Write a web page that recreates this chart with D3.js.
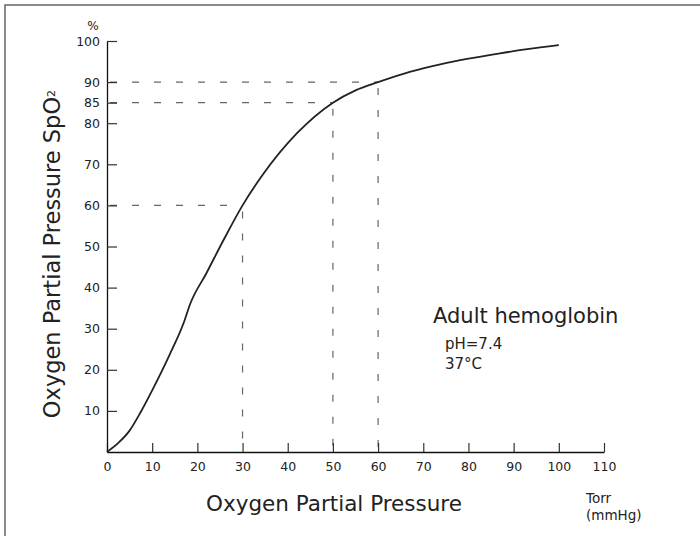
<!DOCTYPE html>
<html>
<head>
<meta charset="utf-8">
<script src="https://cdn.jsdelivr.net/npm/d3@7/dist/d3.min.js"></script>
<style>
  html, body { margin: 0; padding: 0; background: #fff; }
  svg { display: block; }
  text { font-family: "DejaVu Sans", sans-serif; fill: #222; }
</style>
</head>
<body>
<svg id="chart" width="700" height="536"></svg>
<script>
// ---- data ----
const pressure = [0, 2.5, 5, 7.5, 10, 14, 17, 18.4, 22, 26, 30, 34.5, 42, 50, 55, 60, 67, 74, 80, 87, 93, 100];
const saturation = [0, 2.2, 5.2, 9.8, 15, 24, 31.5, 36, 43.5, 52, 60, 67.5, 77.5, 85, 88, 90, 92.5, 94.4, 95.7, 97, 98, 99];
const guidePressures = [30, 50, 60];
const guideSaturations = [60, 85, 90];
const xTicks = [0, 10, 20, 30, 40, 50, 60, 70, 80, 90, 100, 110];
const yTicks = [10, 20, 30, 40, 50, 60, 70, 80, 85, 90, 100];

const svg = d3.select("#chart");

// frame
svg.append("rect")
  .attr("x", 5).attr("y", 5).attr("width", 720).attr("height", 560)
  .attr("fill", "none").attr("stroke", "#666").attr("stroke-width", 1.5);

const x = d3.scaleLinear().domain([0, 110]).range([107, 604]);
const y = d3.scaleLinear().domain([0, 100]).range([452, 41]);

// guides
const guides = svg.append("g")
  .attr("stroke", "#666").attr("stroke-width", 1.2)
  .attr("stroke-dasharray", "7,15").attr("fill", "none");
guidePressures.forEach((p, i) => {
  const s = guideSaturations[i];
  guides.append("line")
    .attr("x1", x(0) + 3).attr("x2", x(p)).attr("y1", y(s)).attr("y2", y(s));
  guides.append("line")
    .attr("x1", x(p)).attr("x2", x(p)).attr("y1", y(s) + 6).attr("y2", y(0));
});

// axes
const xAxis = d3.axisBottom(x).tickValues(xTicks).tickSizeInner(-9).tickSizeOuter(0).tickPadding(10.5);
const yAxis = d3.axisLeft(y).tickValues(yTicks).tickSizeInner(-10).tickSizeOuter(0).tickPadding(7);

const gx = svg.append("g").attr("transform", `translate(0,${y(0)})`).call(xAxis);
const gy = svg.append("g").attr("transform", `translate(${x(0)},0)`).call(yAxis);

[gx, gy].forEach(g => {
  g.select(".domain").attr("stroke", "#111").attr("stroke-width", 1.3);
  g.selectAll(".tick line").attr("stroke", "#333").attr("stroke-width", 1.2);
  g.selectAll(".tick text").attr("font-family", "DejaVu Sans").attr("font-size", 12.5).attr("fill", "#222");
});

// curve
const line = d3.line()
  .x((d, i) => x(pressure[i]))
  .y((d, i) => y(saturation[i]))
  .curve(d3.curveMonotoneX);
svg.append("path")
  .datum(pressure)
  .attr("d", line)
  .attr("fill", "none").attr("stroke", "#222").attr("stroke-width", 1.8);

// texts
svg.append("text").attr("x", 93).attr("y", 30).attr("text-anchor", "middle")
  .attr("font-size", 12).text("%");

const yt = svg.append("text")
  .attr("transform", `translate(59.5,254) rotate(-90)`)
  .attr("text-anchor", "middle")
  .attr("font-size", 22.5);
yt.append("tspan").text("Oxygen Partial Pressure SpO");
yt.append("tspan").attr("font-size", 11).attr("dy", -5).text("2");

svg.append("text").attr("x", 334).attr("y", 511).attr("text-anchor", "middle")
  .attr("font-size", 21.5).text("Oxygen Partial Pressure");

svg.append("text").attr("x", 586).attr("y", 503).attr("font-size", 13.5).text("Torr");
svg.append("text").attr("x", 586).attr("y", 520).attr("font-size", 13.5).text("(mmHg)");

svg.append("text").attr("x", 433).attr("y", 322.5).attr("font-size", 21).text("Adult hemoglobin");
svg.append("text").attr("x", 445).attr("y", 348.5).attr("font-size", 15).text("pH=7.4");
svg.append("text").attr("x", 445).attr("y", 368.5).attr("font-size", 15).text("37°C");
</script>
</body>
</html>
